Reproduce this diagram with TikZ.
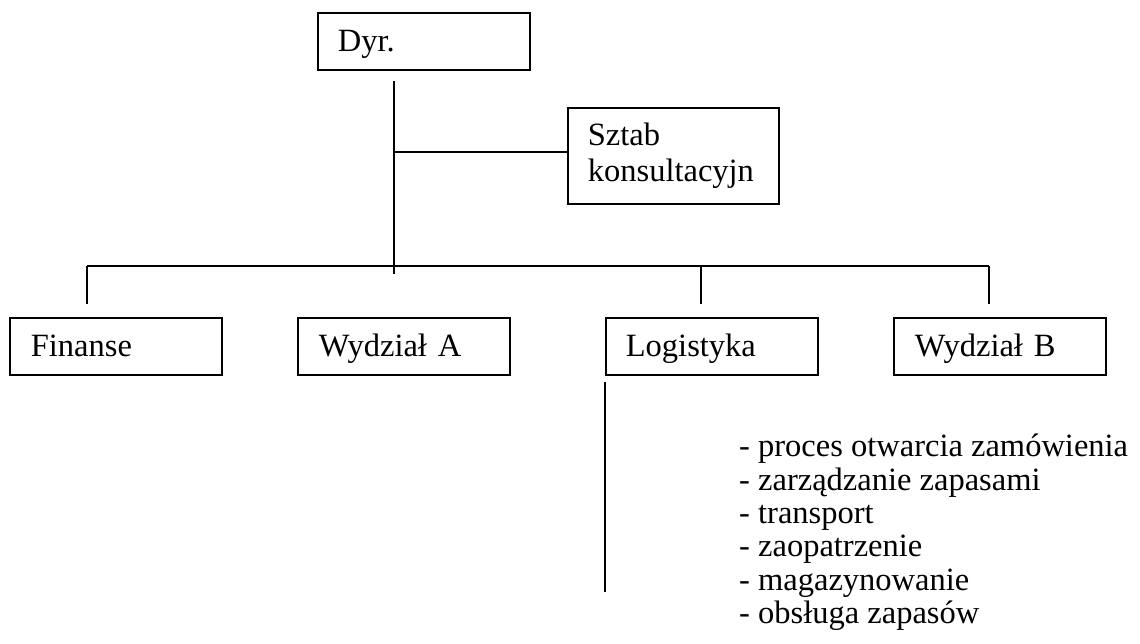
\documentclass[tikz,border=0pt]{standalone}
\usepackage{fontspec}
\setmainfont{Liberation Serif}
\begin{document}
\begin{tikzpicture}[x=1pt,y=-1pt,
  every node/.style={font=\fontsize{32.5pt}{33.3pt}\selectfont},
  orgbox/.style={draw, line width=1.7pt, anchor=north west, inner xsep=0pt,
    minimum width=212pt, minimum height=57pt, text width=212pt, align=left},
  oneline/.style={text height=21pt, text depth=0pt},
  conn/.style={line width=1.7pt}]
\useasboundingbox (0,0) rectangle (1140,644);

% boxes
\node[orgbox, oneline] (dyr) at (317,12) {\hspace*{20pt}Dyr.};
\node[orgbox, minimum width=211pt, minimum height=96pt, text width=211pt,
  font=\fontsize{32.5pt}{36pt}\selectfont] (sztab) at (567,107)
  {\hspace*{20pt}Sztab\\\hspace*{20pt}konsultacyjn};
\node[orgbox, oneline] (finanse) at (9,317) {\hspace*{21pt}Finanse};
\node[orgbox, oneline] (wydzA) at (297,317) {\hspace*{21pt}Wydział A};
\node[orgbox, oneline] (logist) at (605,317) {\hspace*{20pt}Logistyka};
\node[orgbox, oneline] (wydzB) at (893,317) {\hspace*{21pt}Wydział B};

% task list of the logistics department
\node[anchor=north west, inner sep=0pt, align=left] (tasks) at (739,434)
  {- proces otwarcia zamówienia\\
   - zarządzanie zapasami\\
   - transport\\
   - zaopatrzenie\\
   - magazynowanie\\
   - obsługa zapasów};

% trunk and branches
\coordinate (trunkTop) at (394,81);
\coordinate (trunkBot) at (394,274);
\coordinate (barL) at (87,266);
\coordinate (barR) at (989,266);
\coordinate (dropL) at (701,266);
\draw[conn] (trunkTop) -- (trunkBot);
\draw[conn] (trunkTop |- 0,152) -- (sztab.west |- 0,152);
\draw[conn] (barL) -- (barR);
\draw[conn] (barL) -- ++(0,38);
\draw[conn] (dropL) -- ++(0,38);
\draw[conn] (barR) -- ++(0,38);

% line below Logistyka
\coordinate (logLineTop) at ([yshift=-6pt]logist.south west);
\coordinate (logLineBot) at (logist.south west |- 0,592);
\draw[conn] (logLineTop) -- (logLineBot);
\end{tikzpicture}
\end{document}
